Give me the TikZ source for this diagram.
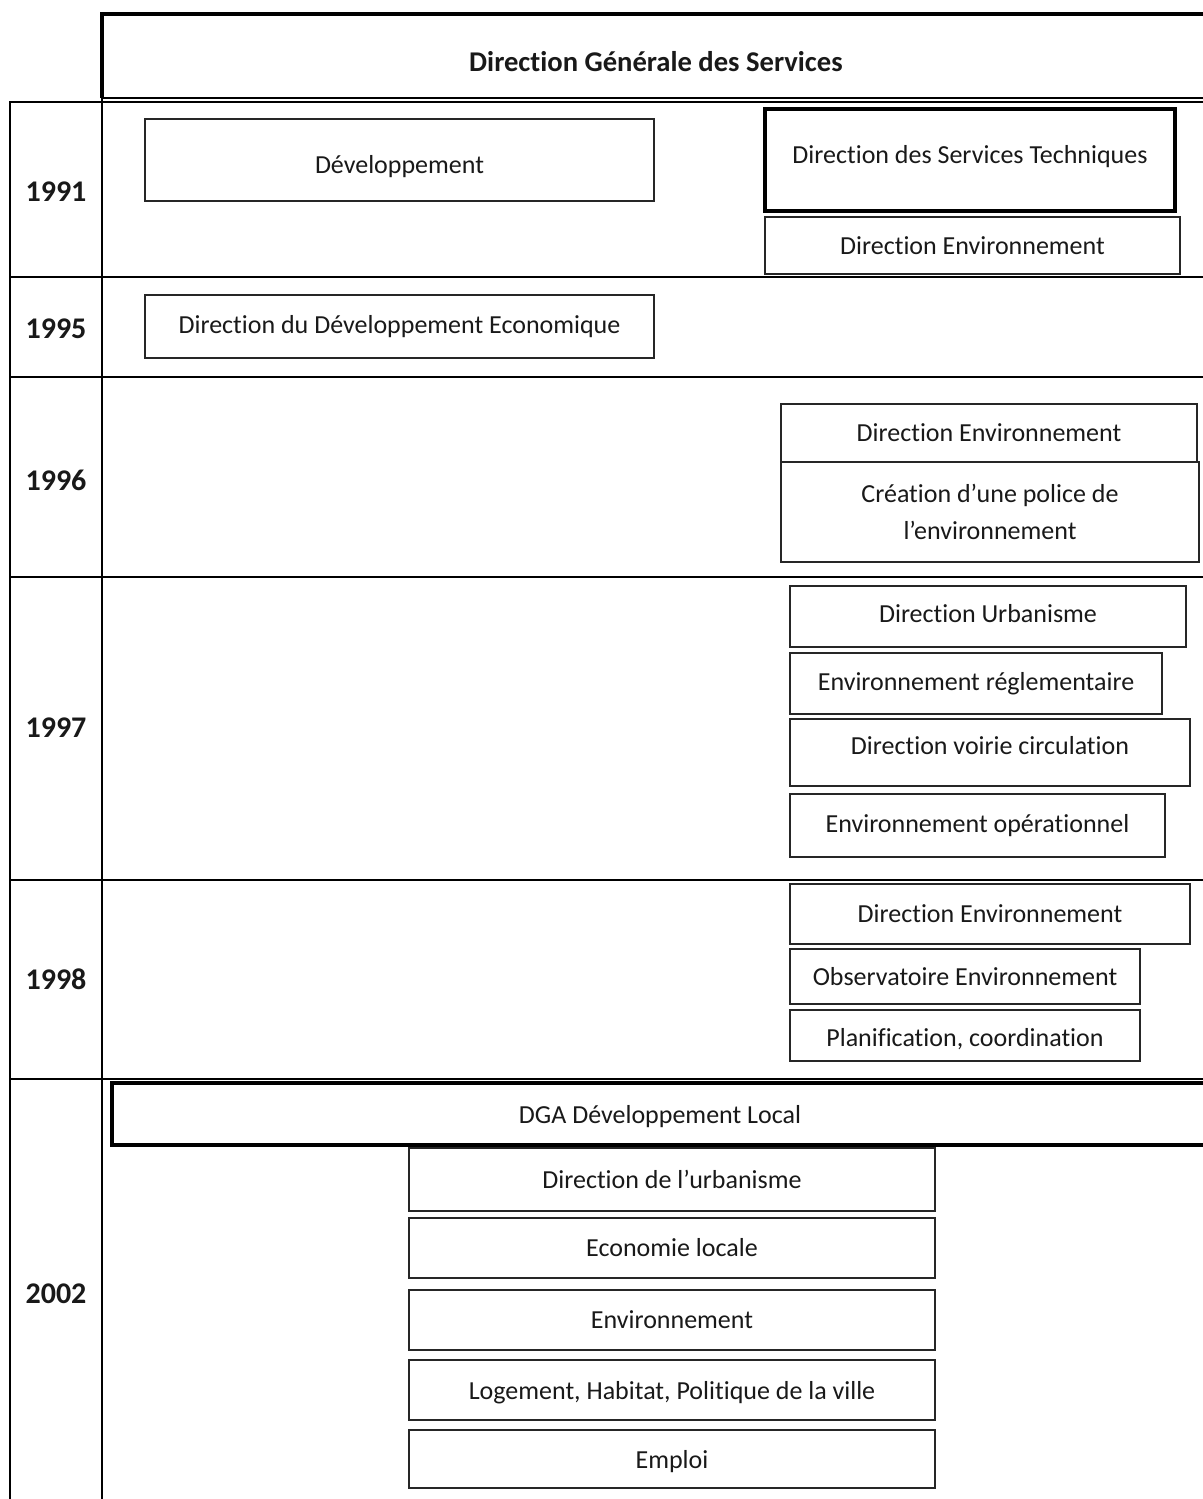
\documentclass[tikz,border=0pt]{standalone}
\usepackage{fontspec}
\setmainfont[Ligatures=NoCommon]{Carlito}
\newcommand\orgbox[7][]{%
  \node[obox,#1,minimum width={(#4-#2)*0.5pt},minimum height={(#5-#3)*0.5pt}] (#6) at ({(#2+#4)/2},{(#3+#5)/2}) {#7};}
\begin{document}
\begin{tikzpicture}[x=0.5pt,y=-0.5pt,
  every node/.style={font=\fontsize{13}{18.5}\selectfont, text=black!90},
  obox/.style={draw=black!85, line width=0.9pt, rectangle, inner sep=0pt, align=center},
  thickbox/.style={line width=2pt, draw=black},
  txtdown/.style={text height={9.5pt+2*#1}, text depth=2.7pt},
  txtup/.style={text height=9.5pt, text depth={2.7pt+2*#1}},
  tline/.style={line width=1pt, draw=black},
  yearlbl/.style={font=\fontsize{15}{17}\selectfont\bfseries}]
\useasboundingbox (0,0) rectangle (1203,1499);
\clip (0,0) rectangle (1203,1499);
\fill[white] (0,0) rectangle (1203,1499);
% header
\draw[line width=1.6pt] (1210,14) -- (102,14) -- (102,98);
\draw[tline] (102,98) -- (1210,98);
\node[font=\fontsize{14.3}{16}\selectfont\bfseries] (title) at (656,62) {Direction Générale des Services};
% table grid
\draw[tline] (10,1510) -- (10,102) -- (1210,102);
\draw[tline] (102,98) -- (102,1510);
\foreach \yy in {277,377,577,880,1079}{\draw[tline] (10,\yy) -- (1210,\yy);}
% years
\node[yearlbl] (y1991) at (56,192) {1991};
\node[yearlbl] (y1995) at (56,329) {1995};
\node[yearlbl] (y1996) at (56,480) {1996};
\node[yearlbl] (y1997) at (56,728) {1997};
\node[yearlbl] (y1998) at (56,979) {1998};
\node[yearlbl] (y2002) at (56,1294) {2002};
% 1991
\orgbox[txtdown=3.5pt]{145}{119}{654}{201}{dev}{Développement}
\orgbox[thickbox,txtup=1.5pt]{765}{109}{1175}{211}{dst}{Direction des Services Techniques}
\orgbox{765}{217}{1180}{274}{denv91}{Direction Environnement}
% 1995
\orgbox{145}{295}{654}{358}{dde}{Direction du Développement Economique}
% 1996
\orgbox{781}{404}{1197}{462}{denv96}{Direction Environnement}
\orgbox{781}{462}{1199}{562}{police}{Création d’une police de\\l’environnement}
% 1997
\orgbox[txtup=0.4pt]{790}{586}{1186}{647}{durb}{Direction Urbanisme}
\orgbox{790}{653}{1162}{714}{envreg}{Environnement réglementaire}
\orgbox[txtup=2.5pt]{790}{719}{1190}{786}{voirie}{Direction voirie circulation}
\orgbox{790}{794}{1165}{857}{envop}{Environnement opérationnel}
% 1998
\orgbox{790}{884}{1190}{944}{denv98}{Direction Environnement}
\orgbox[txtdown=1pt]{790}{949}{1140}{1004}{obs}{Observatoire Environnement}
\orgbox[txtdown=2pt]{790}{1010}{1140}{1061}{plan}{Planification, coordination}
% 2002
\orgbox[thickbox,txtdown=1.5pt]{112}{1083}{1208}{1145}{dga}{DGA Développement Local}
\orgbox{409}{1148}{935}{1211}{urba}{Direction de l’urbanisme}
\orgbox{409}{1218}{935}{1278}{eco}{Economie locale}
\orgbox{409}{1290}{935}{1350}{env}{Environnement}
\orgbox[txtdown=1.5pt]{409}{1360}{935}{1420}{loge}{Logement, Habitat, Politique de la ville}
\orgbox[txtdown=1.5pt]{409}{1430}{935}{1488}{emploi}{Emploi}
\end{tikzpicture}
\end{document}
